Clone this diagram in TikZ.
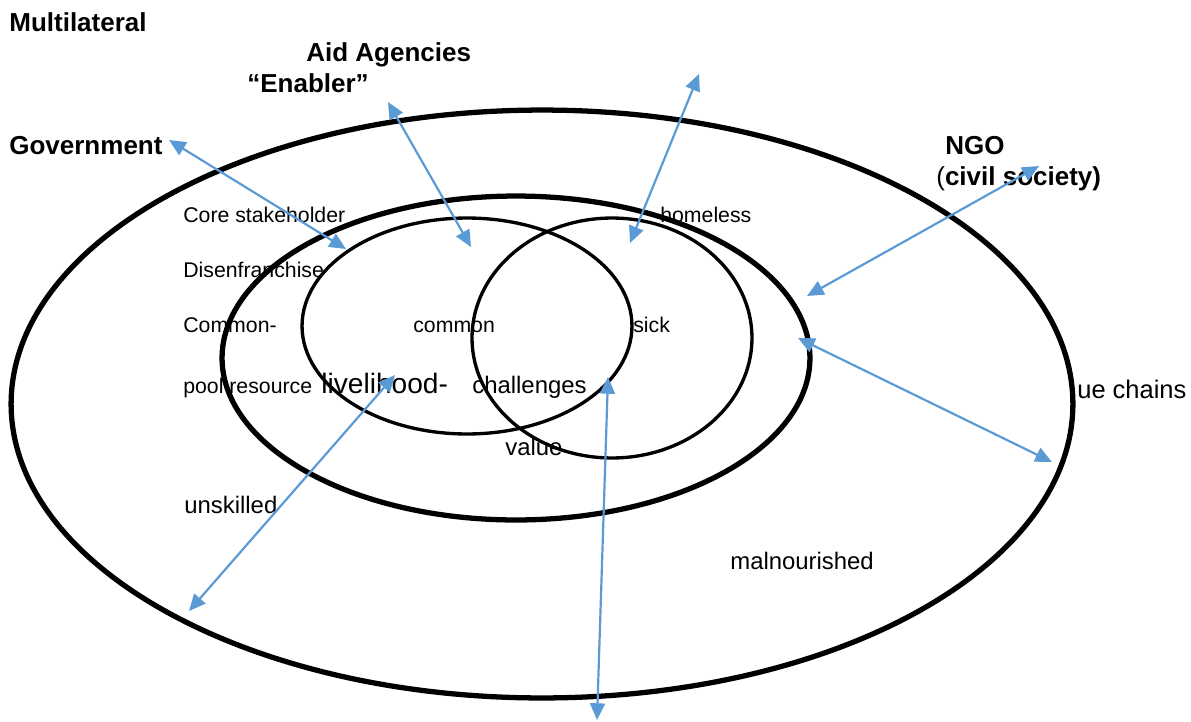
\documentclass[tikz,border=0pt]{standalone}
\usepackage{fontspec}
\setmainfont{Liberation Sans}
\usepackage{tikz}
\usetikzlibrary{arrows.meta}

\definecolor{pfeilblau}{RGB}{91,155,213}

\begin{document}
\begin{tikzpicture}[x=0.02cm,y=-0.02cm,
		ring/.style={draw=black,line width=3pt},
		kreis/.style={draw=black,line width=1.9pt},
		pfeil/.style={draw=pfeilblau,line width=1.25pt,
			{Triangle[length=9.5pt,width=8.5pt]}-{Triangle[length=9.5pt,width=8.5pt]}},
		wort/.style={anchor=base west,inner sep=0pt,font=\fontsize{12.1}{14}\selectfont},
		wortgross/.style={anchor=base west,inner sep=0pt,font=\fontsize{13.6}{16}\selectfont},
		akteur/.style={anchor=base west,inner sep=0pt,font=\fontsize{14.8}{17}\selectfont\bfseries}]
		\useasboundingbox (0,0) rectangle (1191,721);
		
		%Ellipsen und Kreise
		\draw[ring] (542,404) ellipse [x radius=10.62cm, y radius=5.88cm];
		\draw[ring] (516,358) ellipse [x radius=5.88cm, y radius=3.24cm];
		\draw[kreis] (467,326) ellipse [x radius=3.3cm, y radius=2.16cm];
		\draw[kreis] (612,338) ellipse [x radius=2.8cm, y radius=2.4cm];
		
		%Akteure
		\node[akteur] (multi) at (9,31) {Multilateral};
		\node[akteur] (aid) at (306,61) {Aid Agencies};
		\node[akteur] (enabler) at (247,92) {“Enabler”};
		\node[akteur] (gov) at (9,154) {Government};
		\node[akteur] (ngo) at (945,154) {NGO};
		\node[akteur] (civil) at (936,185) {{\mdseries (}civil society)};
		
		%Begriffe
		\node[wort] (core) at (183,222) {Core stakeholder};
		\node[wort] (disen) at (183,277) {Disenfranchise};
		\node[wort] (commonl) at (183,332) {Common-};
		\node[wort] (pool) at (183,393) {pool resource};
		\node[wort] (common) at (413,332) {common};
		\node[wort] (sick) at (633,332) {sick};
		\node[wort] (homeless) at (660,222) {homeless};
		\node[anchor=base west,inner sep=0pt,font=\fontsize{16}{19}\selectfont] (liveli) at (321,393) {livelihood-};
		\node[wortgross] (chall) at (472,393) {challenges};
		\node[wortgross] (value) at (505,455) {value};
		\node[anchor=base west,inner sep=0pt,font=\fontsize{14.5}{17}\selectfont] (chains) at (1077,398) {ue chains};
		\node[wortgross] (unskilled) at (184,513) {unskilled};
		\node[wortgross] (malnour) at (730,569) {malnourished};
		
		%Koordinaten für die Pfeile
		\coordinate (g1) at (169,140);
		\coordinate (g2) at (346,249);
		\coordinate (a1) at (388,102);
		\coordinate (a2) at (471,247);
		\coordinate (o1) at (699,74);
		\coordinate (o2) at (630,243);
		\coordinate (n1) at (1039,166);
		\coordinate (n2) at (807,296);
		\coordinate (r1) at (798,338);
		\coordinate (r2) at (1052,462);
		\coordinate (l1) at (395,375);
		\coordinate (l2) at (189,611);
		\coordinate (u1) at (608,377);
		\coordinate (u2) at (597,720);
		
		\draw[pfeil] (g1) -- (g2);
		\draw[pfeil] (a1) -- (a2);
		\draw[pfeil] (o1) -- (o2);
		\draw[pfeil] (n1) -- (n2);
		\draw[pfeil] (r1) -- (r2);
		\draw[pfeil] (l1) -- (l2);
		\draw[pfeil] (u1) -- (u2);
		
\end{tikzpicture}
\end{document}
